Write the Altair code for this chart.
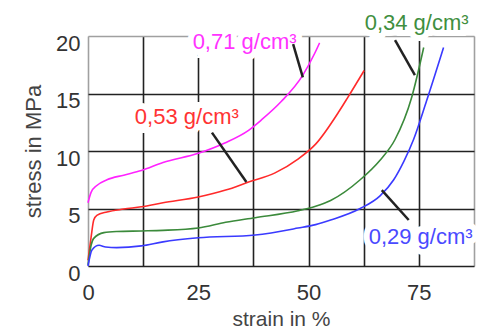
import altair as alt
import pandas as pd

# --- data ---
x071 = [0, 0.7, 2.0, 4.3, 8.1, 12.1, 17, 25, 31, 36.4, 39.3, 43.8, 48.7, 51.4, 52.5]
y071 = [5.5, 6.4, 7.0, 7.5, 7.9, 8.3, 9.0, 9.8, 10.7, 11.8, 12.7, 14.3, 16.6, 18.5, 19.4]

x053 = [0, 0.7, 1.3, 2.0, 4.3, 8.1, 12.1, 17, 25, 31.2, 36.4, 42.4, 47.6, 51.6, 57, 58.8, 62.6]
y053 = [0.5, 2.5, 4.0, 4.4, 4.7, 4.95, 5.15, 5.5, 6.0, 6.6, 7.3, 8.1, 9.3, 10.6, 13.5, 14.6, 17.0]

x034 = [0, 0.7, 1.3, 3.6, 6.5, 12.1, 17, 25, 31.2, 37.9, 47.6, 51.6, 55, 61.7, 66.2, 69.6, 73.4, 76.1]
y034 = [0.1, 1.8, 2.4, 2.9, 3.0, 3.05, 3.1, 3.3, 3.8, 4.2, 4.8, 5.2, 5.7, 7.5, 9.2, 11.0, 14.7, 19.0]

x029 = [0, 0.9, 2.5, 4.0, 6.5, 12.1, 17, 25, 37.9, 47.6, 51.6, 55, 61.7, 66.2, 69.3, 71.6, 73.8, 76.7, 80.6]
y029 = [0, 1.4, 1.8, 1.65, 1.6, 1.75, 2.1, 2.45, 2.7, 3.3, 3.6, 4.0, 5.0, 6.1, 7.5, 9.1, 11.0, 14.3, 19.0]

series_names = ["0,71 g/cm³", "0,53 g/cm³", "0,34 g/cm³", "0,29 g/cm³"]
line_colors = ["#ff22ff", "#ff2a2a", "#3b8a3b", "#3a3aff"]
text_colors = ["#ff33ff", "#ff3333", "#3f8f3f", "#4a4aff"]

# annotation label anchor points (data units)
label_x = [35.5, 22.4, 74.5, 75.4]
label_y = [19.5, 12.96, 21.1, 2.5]

# pointer segments (data units)
ptr_x1 = [46.5, 28.1, 69.6, 66.6]
ptr_y1 = [19.3, 11.6, 19.65, 6.6]
ptr_x2 = [48.7, 35.9, 74.1, 72.7]
ptr_y2 = [16.4, 7.3, 16.6, 4.0]

x_grid = [0, 12.5, 25, 37.5, 50, 62.5, 75, 87.5]
y_grid = [0, 2.5, 5, 7.5, 10, 12.5, 15, 17.5, 20]

rows = []
for name, xs, ys in zip(series_names, [x071, x053, x034, x029], [y071, y053, y034, y029]):
    for a, b in zip(xs, ys):
        rows.append({"series": name, "strain": a, "stress": b})
lines_df = pd.DataFrame(rows)

labels_df = pd.DataFrame({"series": series_names, "x": label_x, "y": label_y})
ptr_df = pd.DataFrame({"series": series_names, "x1": ptr_x1, "y1": ptr_y1, "x2": ptr_x2, "y2": ptr_y2})

xscale = alt.Scale(domain=[0, 87.5], nice=False, zero=False)
yscale = alt.Scale(domain=[0, 20], nice=False, zero=False)

font = "Liberation Sans"

x_axis = alt.Axis(
    values=x_grid, format="d",
    labelExpr="datum.value % 25 == 0 ? datum.label : ''",
    title="strain in %", grid=True,
    gridColor={"condition": {"test": "datum.value == 0 || datum.value == 87.5", "value": "#a0a0a0"}, "value": "#222222"},
    gridWidth=1.6, ticks=False, domain=False,
    labelFont=font, labelFontSize=22, labelColor="#333333", labelPadding=16,
    labelFlush=False, labelOverlap=False,
    titleFont=font, titleFontSize=21, titleFontWeight="normal", titleColor="#444444", titlePadding=5,
)
y_axis = alt.Axis(
    values=y_grid, format="d",
    labelExpr="datum.value % 5 == 0 ? datum.label : ''",
    title="stress in MPa", grid=True,
    gridColor={"condition": {"test": "datum.value == 20", "value": "#a0a0a0"}, "value": "#222222"},
    gridWidth=1.6, ticks=False, domain=False,
    labelFont=font, labelFontSize=22, labelColor="#333333", labelPadding=8, labelOffset=7,
    labelFlush=False, labelOverlap=False,
    titleFont=font, titleFontSize=22, titleFontWeight="normal", titleColor="#444444", titlePadding=10,
)

color_scale = alt.Scale(domain=series_names, range=line_colors)
text_scale = alt.Scale(domain=series_names, range=text_colors)

curves = alt.Chart(lines_df).mark_line(interpolate="monotone", strokeWidth=1.6).encode(
    x=alt.X("strain:Q", scale=xscale, axis=x_axis),
    y=alt.Y("stress:Q", scale=yscale, axis=y_axis),
    color=alt.Color("series:N", scale=color_scale, legend=None),
    detail="series:N",
)

pointers = alt.Chart(ptr_df).mark_rule(color="#222222", strokeWidth=2.5).encode(
    x=alt.X("x1:Q", scale=xscale), y=alt.Y("y1:Q", scale=yscale),
    x2="x2:Q", y2="y2:Q",
)

halo = alt.Chart(labels_df).mark_text(
    font=font, fontSize=22, stroke="white", strokeWidth=12, fill="white",
    align="center", baseline="middle",
).encode(
    x=alt.X("x:Q", scale=xscale), y=alt.Y("y:Q", scale=yscale), text="series:N",
)

texts = alt.Chart(labels_df).mark_text(
    font=font, fontSize=22, align="center", baseline="middle",
).encode(
    x=alt.X("x:Q", scale=xscale), y=alt.Y("y:Q", scale=yscale), text="series:N",
    color=alt.Color("series:N", scale=text_scale, legend=None),
)

chart = alt.layer(curves, halo, pointers, texts).resolve_scale(color="independent").properties(
    width=386, height=230,
    autosize=alt.AutoSizeParams(type="none"),
    padding={"left": 88, "top": 36, "right": 10, "bottom": 65},
).configure_view(stroke=None).configure(background="white")

chart.save("out.html", embed_options={"renderer": "svg", "actions": False})
